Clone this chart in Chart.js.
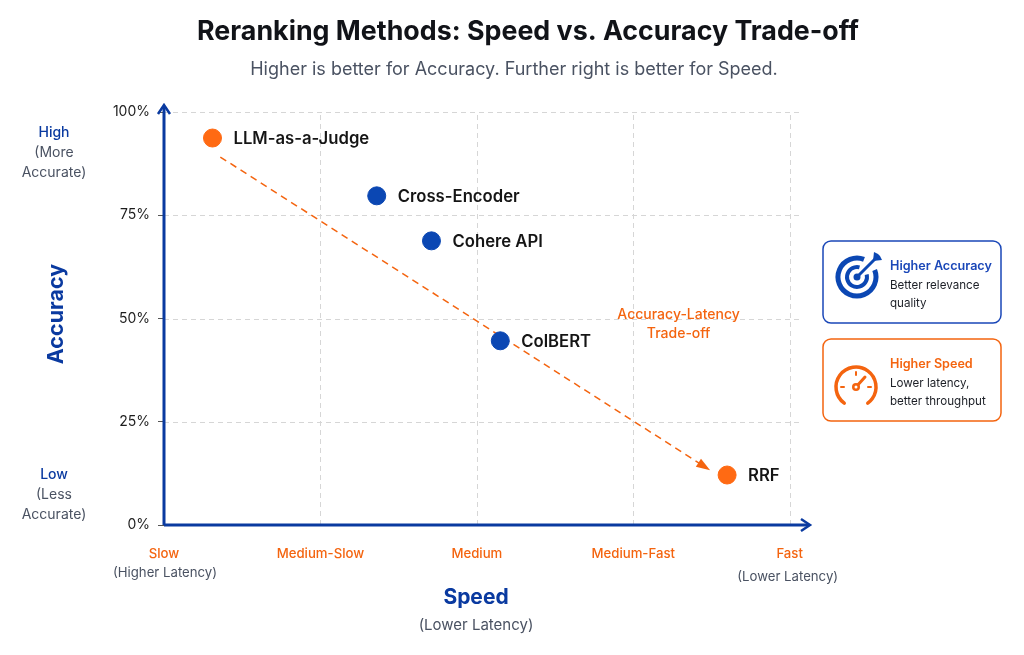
<!DOCTYPE html>
<html>
<head>
<meta charset="utf-8">
<script src="https://cdn.jsdelivr.net/npm/chart.js@4.4.1/dist/chart.umd.min.js"></script>
<style>
  html, body { margin: 0; padding: 0; background: #ffffff; }
  #wrap { width: 1024px; height: 655px; position: relative; }
</style>
</head>
<body>
<div id="wrap"><canvas id="chart"></canvas></div>
<script>
const methods = ['LLM-as-a-Judge', 'Cross-Encoder', 'Cohere API', 'ColBERT', 'RRF'];
const speedValues = [0.31, 1.36, 1.71, 2.15, 3.60];
const accuracyValues = [93.7, 79.7, 68.8, 44.6, 12.1];
const highlighted = ['LLM-as-a-Judge', 'RRF'];

const trendSpeed = [0.36, 3.47];
const trendAccuracy = [89.1, 13.8];

const speedLabels = ['Slow', 'Medium-Slow', 'Medium', 'Medium-Fast', 'Fast'];
const accuracyTicks = [0, 25, 50, 75, 100];

const ORANGE = '#f4640f';
const BLUE = '#0b47b3';
const NAVY = '#0a3aa0';
const GRAY = '#4a5262';
const FONT = 'Inter, "Noto Sans", sans-serif';

const pointColors = methods.map(m => highlighted.includes(m) ? '#ff6a13' : BLUE);

const decor = {
    id: 'decor',
    beforeDraw(chart) {
        const { ctx } = chart;
        ctx.save();
        ctx.fillStyle = '#ffffff';
        ctx.fillRect(0, 0, chart.width, chart.height);
        ctx.restore();
    },
    beforeDatasetsDraw(chart) {
        // dashed grid lines from the scales' ticks
        const { ctx, chartArea: { left, right, top, bottom } } = chart;
        const xs = chart.scales.x, ys = chart.scales.y;
        ctx.save();
        ctx.strokeStyle = '#d6d6d6';
        ctx.lineWidth = 1;
        ctx.setLineDash([5, 4]);
        xs.ticks.forEach(t => {
            if (t.value === 0) return;
            const px = Math.round(xs.getPixelForValue(t.value)) + 0.5;
            ctx.beginPath();
            ctx.moveTo(px, bottom);
            ctx.lineTo(px, top);
            ctx.stroke();
        });
        ys.ticks.forEach(t => {
            if (t.value === 0) return;
            const py = Math.round(ys.getPixelForValue(t.value)) + 0.5;
            ctx.beginPath();
            ctx.moveTo(left, py);
            ctx.lineTo(right - 10, py);
            ctx.stroke();
        });
        ctx.restore();
    },
    afterDatasetsDraw(chart) {
        const { ctx, chartArea: { left, right, top, bottom } } = chart;
        const xs = chart.scales.x, ys = chart.scales.y;
        ctx.save();

        // axes with arrows
        ctx.strokeStyle = NAVY;
        ctx.fillStyle = NAVY;
        ctx.lineWidth = 3;
        ctx.beginPath();
        ctx.moveTo(left, bottom);
        ctx.lineTo(left, top - 6);
        ctx.moveTo(left, bottom);
        ctx.lineTo(right - 2, bottom);
        ctx.stroke();
        ctx.lineWidth = 2.5;
        ctx.beginPath();
        ctx.moveTo(left - 6, top + 2);
        ctx.lineTo(left, top - 7);
        ctx.lineTo(left + 6, top + 2);
        ctx.moveTo(right - 9, bottom - 6);
        ctx.lineTo(right, bottom);
        ctx.lineTo(right - 9, bottom + 6);
        ctx.stroke();

        // trend arrowhead
        const tm = chart.getDatasetMeta(1).data;
        const p0 = tm[0], p1 = tm[1];
        const ang = Math.atan2(p1.y - p0.y, p1.x - p0.x);
        ctx.fillStyle = ORANGE;
        ctx.beginPath();
        ctx.moveTo(p1.x + Math.cos(ang) * 4, p1.y + Math.sin(ang) * 4);
        ctx.lineTo(p1.x - Math.cos(ang - 0.45) * 11, p1.y - Math.sin(ang - 0.45) * 11);
        ctx.lineTo(p1.x - Math.cos(ang + 0.45) * 11, p1.y - Math.sin(ang + 0.45) * 11);
        ctx.closePath();
        ctx.fill();

        // trade-off label
        ctx.font = '500 14px ' + FONT;
        ctx.textAlign = 'center';
        ctx.textBaseline = 'middle';
        const tx = xs.getPixelForValue(3.29), ty = ys.getPixelForValue(48.8);
        ctx.fillText('Accuracy-Latency', tx, ty - 9);
        ctx.fillText('Trade-off', tx, ty + 10);

        // point labels
        const pm = chart.getDatasetMeta(0).data;
        ctx.font = '600 16.7px ' + FONT;
        ctx.fillStyle = '#151515';
        ctx.textAlign = 'left';
        pm.forEach((pt, i) => ctx.fillText(methods[i], pt.x + 21, pt.y + 1));

        // titles
        ctx.textAlign = 'center';
        ctx.fillStyle = '#111318';
        ctx.font = 'bold 26.8px ' + FONT;
        ctx.fillText('Reranking Methods: Speed vs. Accuracy Trade-off', 528, 32);
        ctx.fillStyle = GRAY;
        ctx.font = '18px ' + FONT;
        ctx.fillText('Higher is better for Accuracy. Further right is better for Speed.', 514, 70);

        // y axis title and ends
        ctx.save();
        ctx.translate(57, 314);
        ctx.rotate(-Math.PI / 2);
        ctx.fillStyle = NAVY;
        ctx.font = 'bold 21.5px ' + FONT;
        ctx.fillText('Accuracy', 0, 0);
        ctx.restore();
        ctx.font = '500 14px ' + FONT;
        ctx.fillStyle = NAVY;
        ctx.fillText('High', 54, 133);
        ctx.fillText('Low', 54, 475);
        ctx.font = '14px ' + FONT;
        ctx.fillStyle = GRAY;
        ctx.fillText('(More', 54, 153);
        ctx.fillText('Accurate)', 54, 173);
        ctx.fillText('(Less', 54, 495);
        ctx.fillText('Accurate)', 54, 515);

        // x sublabels and title
        ctx.font = '13.2px ' + FONT;
        ctx.fillText('(Higher Latency)', xs.getPixelForValue(0) + 1, 573);
        ctx.fillText('(Lower Latency)', xs.getPixelForValue(4) - 2, 577);
        ctx.fillStyle = NAVY;
        ctx.font = 'bold 21px ' + FONT;
        ctx.fillText('Speed', 476, 598);
        ctx.fillStyle = GRAY;
        ctx.font = '15px ' + FONT;
        ctx.fillText('(Lower Latency)', 476, 625);

        // cards
        drawCard(ctx, 823, 241, 178, 82, '#1a47b8', 'Higher Accuracy', ['Better relevance', 'quality']);
        drawTarget(ctx, 857, 277);
        drawCard(ctx, 823, 339, 178, 82, ORANGE, 'Higher Speed', ['Lower latency,', 'better throughput']);
        drawGauge(ctx, 856, 387);

        ctx.restore();
    }
};

function drawCard(ctx, x, y, w, h, color, head, lines) {
    ctx.save();
    ctx.fillStyle = '#ffffff';
    ctx.strokeStyle = color;
    ctx.lineWidth = 1.5;
    ctx.beginPath();
    ctx.roundRect(x, y, w, h, 8);
    ctx.fill();
    ctx.stroke();
    ctx.textAlign = 'left';
    ctx.textBaseline = 'middle';
    ctx.fillStyle = color;
    ctx.font = '600 12.6px ' + FONT;
    ctx.fillText(head, x + 67, y + 25);
    ctx.fillStyle = '#1c1f26';
    ctx.font = '11.6px ' + FONT;
    ctx.fillText(lines[0], x + 67, y + 45);
    ctx.fillText(lines[1], x + 67, y + 63);
    ctx.restore();
}

function drawTarget(ctx, cx, cy) {
    ctx.save();
    ctx.strokeStyle = '#0b47b3';
    ctx.fillStyle = '#0b47b3';
    ctx.lineWidth = 5;
    ctx.beginPath();
    ctx.arc(cx, cy, 19, -0.12 * Math.PI, 1.62 * Math.PI);
    ctx.stroke();
    ctx.lineWidth = 4;
    ctx.beginPath();
    ctx.arc(cx, cy, 10, -0.08 * Math.PI, 1.58 * Math.PI);
    ctx.stroke();
    ctx.beginPath();
    ctx.arc(cx, cy, 3.5, 0, Math.PI * 2);
    ctx.fill();
    ctx.lineWidth = 3;
    ctx.beginPath();
    ctx.moveTo(cx, cy);
    ctx.lineTo(cx + 19, cy - 19);
    ctx.stroke();
    ctx.beginPath();
    ctx.moveTo(cx + 17, cy - 25);
    ctx.lineTo(cx + 16, cy - 16);
    ctx.lineTo(cx + 25, cy - 17);
    ctx.lineTo(cx + 23, cy - 21);
    ctx.lineTo(cx + 21, cy - 23);
    ctx.closePath();
    ctx.fill();
    ctx.restore();
}

function drawGauge(ctx, cx, cy) {
    ctx.save();
    ctx.strokeStyle = ORANGE;
    ctx.fillStyle = ORANGE;
    ctx.lineCap = 'round';
    ctx.lineWidth = 3.5;
    ctx.beginPath();
    ctx.arc(cx, cy, 20, 0.7 * Math.PI, 2.3 * Math.PI);
    ctx.stroke();
    ctx.lineWidth = 2;
    [-Math.PI, -0.5 * Math.PI, 0].forEach(a => {
        ctx.beginPath();
        ctx.moveTo(cx + Math.cos(a) * 12, cy + Math.sin(a) * 12);
        ctx.lineTo(cx + Math.cos(a) * 15, cy + Math.sin(a) * 15);
        ctx.stroke();
    });
    ctx.lineWidth = 3;
    ctx.beginPath();
    ctx.moveTo(cx, cy);
    ctx.lineTo(cx + 9, cy - 10);
    ctx.stroke();
    ctx.beginPath();
    ctx.arc(cx, cy, 4, 0, Math.PI * 2);
    ctx.fill();
    ctx.fillStyle = '#fff';
    ctx.beginPath();
    ctx.arc(cx, cy, 1.5, 0, Math.PI * 2);
    ctx.fill();
    ctx.restore();
}

new Chart(document.getElementById('chart'), {
    type: 'scatter',
    data: {
        datasets: [{
            label: 'Methods',
            data: methods.map((m, i) => ({ x: speedValues[i], y: accuracyValues[i] })),
            backgroundColor: pointColors,
            borderColor: pointColors,
            pointRadius: 9,
            pointHoverRadius: 9,
            order: 0
        }, {
            type: 'line',
            label: 'Trade-off',
            data: trendSpeed.map((s, i) => ({ x: s, y: trendAccuracy[i] })),
            borderColor: ORANGE,
            borderWidth: 1.5,
            borderDash: [7, 5],
            pointRadius: 0,
            fill: false,
            order: 1
        }]
    },
    options: {
        responsive: true,
        maintainAspectRatio: false,
        animation: false,
        layout: { padding: { top: 112, right: 214, bottom: 0, left: 0 } },
        plugins: {
            legend: { display: false },
            title: { display: false },
            tooltip: { enabled: false }
        },
        scales: {
            x: {
                type: 'linear',
                min: 0,
                max: 4.13,
                afterBuildTicks(scale) {
                    scale.ticks = speedLabels.map((l, i) => ({ value: i }));
                },
                afterFit(scale) { scale.height = 130; },
                border: { display: false },
                grid: { drawOnChartArea: false, drawTicks: false },
                ticks: {
                    padding: 21,
                    maxRotation: 0,
                    color: ORANGE,
                    font: { family: FONT, size: 13.2, weight: '500' },
                    callback: v => speedLabels[v]
                }
            },
            y: {
                min: 0,
                max: 100,
                afterBuildTicks(scale) {
                    scale.ticks = accuracyTicks.map(v => ({ value: v }));
                },
                afterFit(scale) { scale.width = 164; },
                border: { display: false },
                grid: {
                    drawOnChartArea: false,
                    tickColor: '#555',
                    tickLength: 6
                },
                ticks: {
                    padding: 8,
                    color: '#1d1d1d',
                    font: { family: FONT, size: 14 },
                    callback: v => v + '%'
                }
            }
        }
    },
    plugins: [decor]
});
</script>
</body>
</html>
